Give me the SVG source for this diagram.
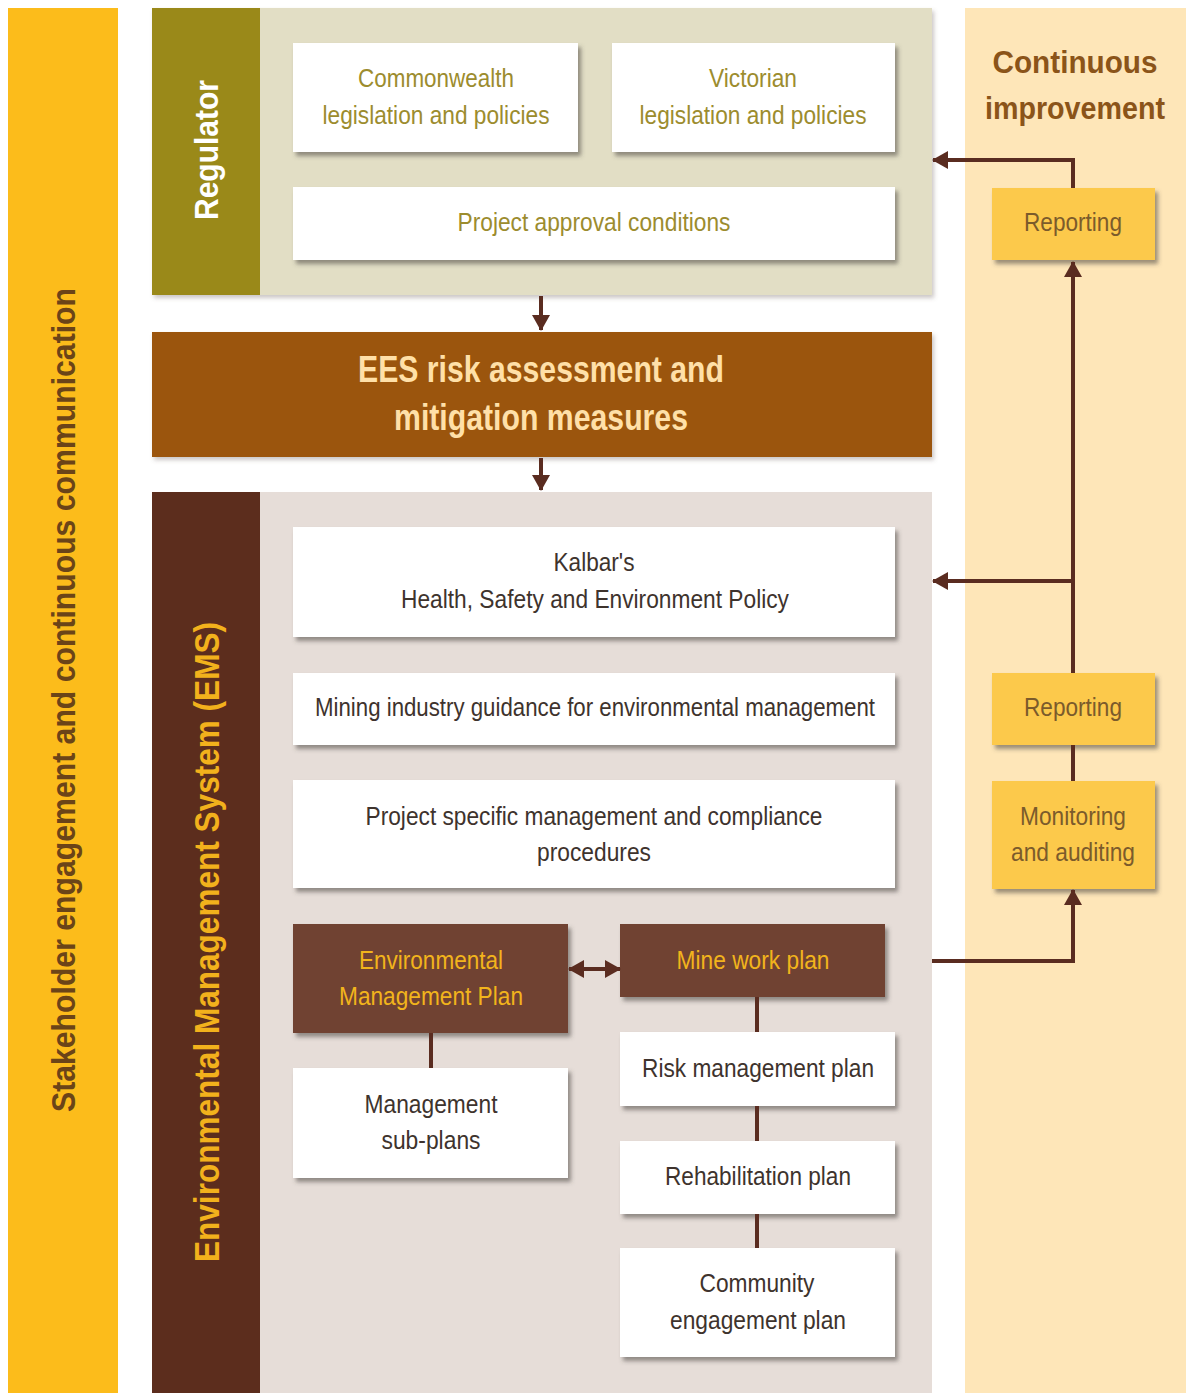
<svg xmlns="http://www.w3.org/2000/svg" width="1186" height="1393" viewBox="0 0 1186 1393">
  <defs>
    <filter id="shadow" x="-5%" y="-10%" width="115%" height="130%">
      <feDropShadow dx="3" dy="4" stdDeviation="2" flood-color="#4a4440" flood-opacity="0.55"/>
    </filter>
    <filter id="panelShadow" x="-5%" y="-5%" width="110%" height="115%">
      <feDropShadow dx="2" dy="3" stdDeviation="2" flood-color="#6a6058" flood-opacity="0.35"/>
    </filter>
    <marker id="arrow" viewBox="0 0 16 18" refX="15" refY="9" markerUnits="userSpaceOnUse" markerWidth="16" markerHeight="18" orient="auto-start-reverse">
      <path d="M0,0 L16,9 L0,18 Z" fill="#5a2c20"/>
    </marker>
    <style>
      .txt { font-family: "Liberation Sans", Arial, sans-serif; }
      .box { fill: #ffffff; filter: url(#shadow); }
      .brownbox { fill: #6f4333; filter: url(#shadow); }
      .goldbox { fill: #fcc94c; filter: url(#shadow); }
      .olive { fill: #9c8c2e; font-size: 26px; text-anchor: middle; }
      .dark { fill: #3e332d; font-size: 26px; text-anchor: middle; }
      .gold { fill: #f2b41c; font-size: 26px; text-anchor: middle; }
      .rep { fill: #7b5b2b; font-size: 26px; text-anchor: middle; }
      .title { fill: #8b5419; font-size: 31px; font-weight: bold; text-anchor: middle; }
      .conn { stroke: #5a2c20; stroke-width: 4; fill: none; }
    </style>
  </defs>

  <!-- Stakeholder side bar -->
  <g id="stakeholder">
    <rect x="8" y="8" width="110" height="1385" fill="#fcbc1b"/>
    <text class="txt" transform="translate(75,700) rotate(-90)" text-anchor="middle" font-size="34" font-weight="bold" fill="#6b4418" textLength="824" lengthAdjust="spacingAndGlyphs">Stakeholder engagement and continuous communication</text>
  </g>

  <!-- Continuous improvement panel -->
  <g id="continuous-improvement">
    <rect x="965" y="8" width="221" height="1385" fill="#fee6b8"/>
    <text class="txt title" x="1075" y="73" textLength="165" lengthAdjust="spacingAndGlyphs">Continuous</text>
    <text class="txt title" x="1075" y="119" textLength="180" lengthAdjust="spacingAndGlyphs">improvement</text>
  </g>

  <!-- Regulator panel -->
  <g id="regulator">
    <rect x="152" y="8" width="780" height="287" fill="#e2dec5" filter="url(#panelShadow)"/>
    <rect x="152" y="8" width="108" height="287" fill="#9a8919"/>
    <text class="txt" transform="translate(218,150) rotate(-90)" text-anchor="middle" font-size="34" font-weight="bold" fill="#ffffff" textLength="140" lengthAdjust="spacingAndGlyphs">Regulator</text>
  </g>

  <g id="commonwealth">
    <rect class="box" x="293" y="43" width="285" height="109"/>
    <text class="txt olive" x="436" y="87" textLength="156" lengthAdjust="spacingAndGlyphs">Commonwealth</text>
    <text class="txt olive" x="436" y="124" textLength="227" lengthAdjust="spacingAndGlyphs">legislation and policies</text>
  </g>

  <g id="victorian">
    <rect class="box" x="612" y="43" width="283" height="109"/>
    <text class="txt olive" x="753" y="87" textLength="88" lengthAdjust="spacingAndGlyphs">Victorian</text>
    <text class="txt olive" x="753" y="124" textLength="227" lengthAdjust="spacingAndGlyphs">legislation and policies</text>
  </g>

  <g id="approval-conditions">
    <rect class="box" x="293" y="187" width="602" height="73"/>
    <text class="txt olive" x="594" y="231" textLength="273" lengthAdjust="spacingAndGlyphs">Project approval conditions</text>
  </g>

  <!-- EES -->
  <g id="ees">
    <rect x="152" y="332" width="780" height="125" fill="#9b5409" filter="url(#panelShadow)"/>
    <text class="txt" x="541" y="382" text-anchor="middle" font-size="36" font-weight="bold" fill="#ffe0a8" textLength="366" lengthAdjust="spacingAndGlyphs">EES risk assessment and</text>
    <text class="txt" x="541" y="430" text-anchor="middle" font-size="36" font-weight="bold" fill="#ffe0a8" textLength="294" lengthAdjust="spacingAndGlyphs">mitigation measures</text>
  </g>

  <!-- EMS panel -->
  <g id="ems">
    <rect x="152" y="492" width="780" height="901" fill="#e6ddd8"/>
    <rect x="152" y="492" width="108" height="901" fill="#5c2d1d"/>
    <text class="txt" transform="translate(219,942) rotate(-90)" text-anchor="middle" font-size="35" font-weight="bold" fill="#f2b11c" textLength="640" lengthAdjust="spacingAndGlyphs">Environmental Management System (EMS)</text>
  </g>

  <g id="hse-policy">
    <rect class="box" x="293" y="527" width="602" height="110"/>
    <text class="txt dark" x="594" y="571" textLength="81" lengthAdjust="spacingAndGlyphs">Kalbar's</text>
    <text class="txt dark" x="595" y="608" textLength="388" lengthAdjust="spacingAndGlyphs">Health, Safety and Environment Policy</text>
  </g>

  <g id="industry-guidance">
    <rect class="box" x="293" y="673" width="602" height="72"/>
    <text class="txt dark" x="595" y="716" textLength="560" lengthAdjust="spacingAndGlyphs">Mining industry guidance for environmental management</text>
  </g>

  <g id="compliance-procedures">
    <rect class="box" x="293" y="780" width="602" height="108"/>
    <text class="txt dark" x="594" y="825" textLength="457" lengthAdjust="spacingAndGlyphs">Project specific management and compliance</text>
    <text class="txt dark" x="594" y="861" textLength="114" lengthAdjust="spacingAndGlyphs">procedures</text>
  </g>

  <g id="emp">
    <rect class="brownbox" x="293" y="924" width="275" height="109"/>
    <text class="txt gold" x="431" y="969" textLength="144" lengthAdjust="spacingAndGlyphs">Environmental</text>
    <text class="txt gold" x="431" y="1005" textLength="184" lengthAdjust="spacingAndGlyphs">Management Plan</text>
  </g>

  <g id="mine-work-plan">
    <rect class="brownbox" x="620" y="924" width="265" height="73"/>
    <text class="txt gold" x="753" y="969" textLength="153" lengthAdjust="spacingAndGlyphs">Mine work plan</text>
  </g>

  <g id="sub-plans">
    <rect class="box" x="293" y="1068" width="275" height="110"/>
    <text class="txt dark" x="431" y="1113" textLength="133" lengthAdjust="spacingAndGlyphs">Management</text>
    <text class="txt dark" x="431" y="1149" textLength="99" lengthAdjust="spacingAndGlyphs">sub-plans</text>
  </g>

  <g id="risk-plan">
    <rect class="box" x="620" y="1032" width="275" height="74"/>
    <text class="txt dark" x="758" y="1077" textLength="232" lengthAdjust="spacingAndGlyphs">Risk management plan</text>
  </g>

  <g id="rehab-plan">
    <rect class="box" x="620" y="1141" width="275" height="73"/>
    <text class="txt dark" x="758" y="1185" textLength="186" lengthAdjust="spacingAndGlyphs">Rehabilitation plan</text>
  </g>

  <g id="community-plan">
    <rect class="box" x="620" y="1248" width="275" height="109"/>
    <text class="txt dark" x="757" y="1292" textLength="115" lengthAdjust="spacingAndGlyphs">Community</text>
    <text class="txt dark" x="758" y="1329" textLength="176" lengthAdjust="spacingAndGlyphs">engagement plan</text>
  </g>

  <g id="reporting-upper">
    <rect class="goldbox" x="992" y="188" width="163" height="72"/>
    <text class="txt rep" x="1073" y="231" textLength="98" lengthAdjust="spacingAndGlyphs">Reporting</text>
  </g>

  <g id="reporting-lower">
    <rect class="goldbox" x="992" y="673" width="163" height="72"/>
    <text class="txt rep" x="1073" y="716" textLength="98" lengthAdjust="spacingAndGlyphs">Reporting</text>
  </g>

  <g id="monitoring">
    <rect class="goldbox" x="992" y="781" width="163" height="108"/>
    <text class="txt rep" x="1073" y="825" textLength="106" lengthAdjust="spacingAndGlyphs">Monitoring</text>
    <text class="txt rep" x="1073" y="861" textLength="124" lengthAdjust="spacingAndGlyphs">and auditing</text>
  </g>

  <!-- Connectors -->
  <g id="connectors">
    <path class="conn" d="M541,296 V330" marker-end="url(#arrow)"/>
    <path class="conn" d="M541,458 V490" marker-end="url(#arrow)"/>
    <path class="conn" d="M1073,188 V160 H933" marker-end="url(#arrow)"/>
    <path class="conn" d="M1073,673 V262" marker-end="url(#arrow)"/>
    <path class="conn" d="M1073,581 H933" marker-end="url(#arrow)"/>
    <path class="conn" d="M1073,745 V781"/>
    <path class="conn" d="M932,961 H1073 V890" marker-end="url(#arrow)"/>
    <path class="conn" d="M569,969 H620" marker-start="url(#arrow)" marker-end="url(#arrow)"/>
    <path class="conn" d="M431,1033 V1068"/>
    <path class="conn" d="M757,997 V1032"/>
    <path class="conn" d="M757,1106 V1141"/>
    <path class="conn" d="M757,1214 V1248"/>
  </g>
</svg>
